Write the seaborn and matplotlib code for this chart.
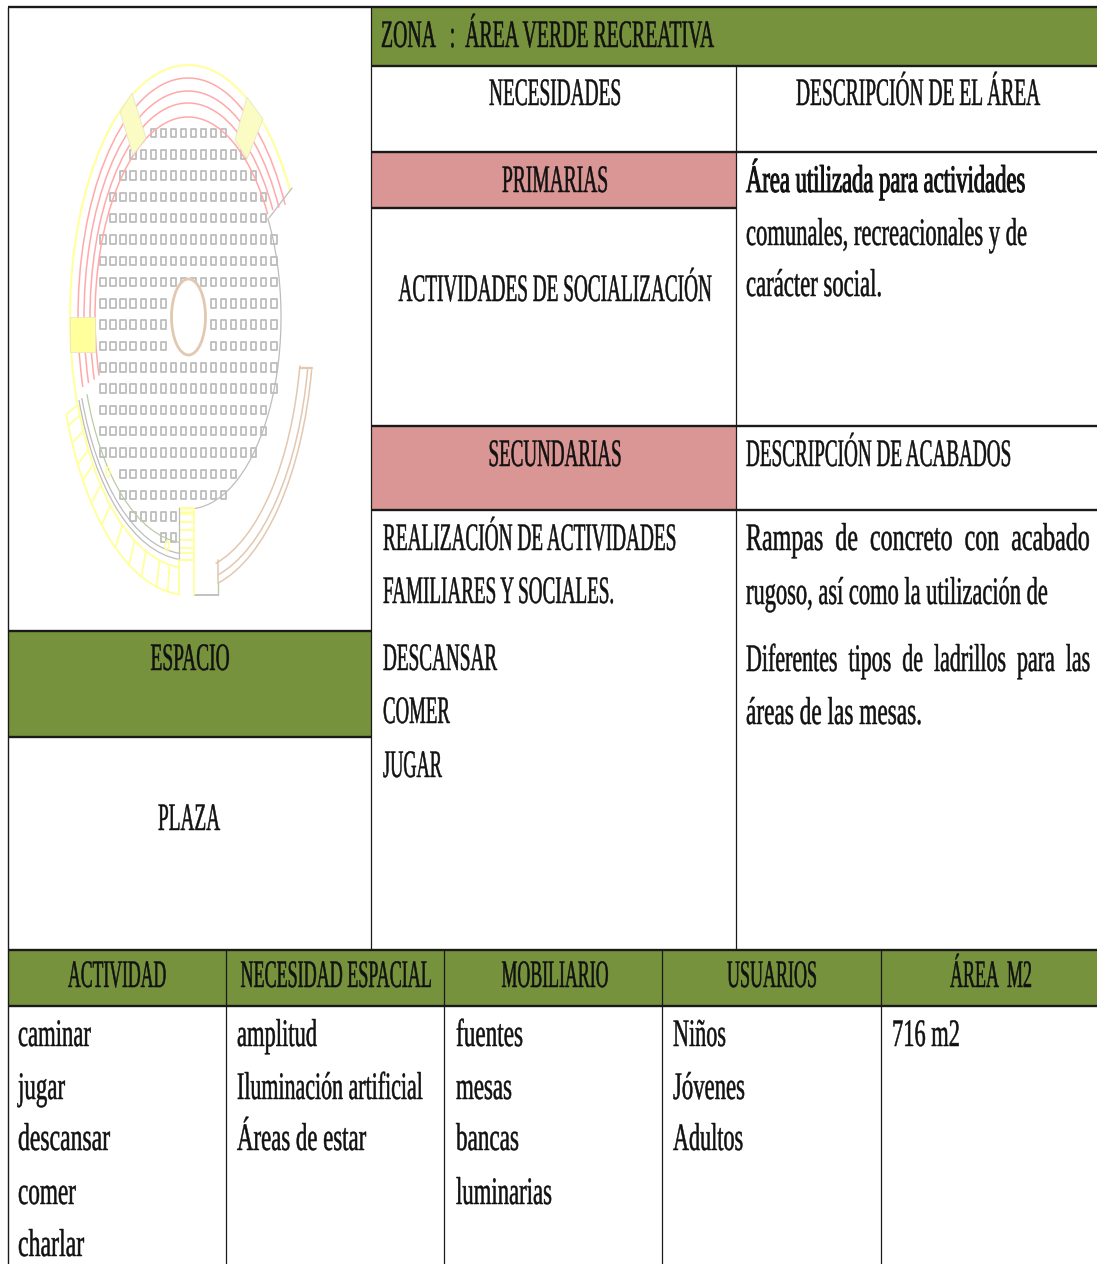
import numpy as np
import matplotlib
matplotlib.use("Agg")
import matplotlib.pyplot as plt
import seaborn as sns
import pandas as pd
from matplotlib.patches import Arc, Ellipse, Polygon, Rectangle
from matplotlib.patheffects import AbstractPathEffect
from matplotlib.path import Path
from matplotlib.text import Text
from matplotlib.transforms import Affine2D, Bbox

# Table text
zona_title = "ZONA   :  ÁREA VERDE RECREATIVA"
necesidades_head = ["NECESIDADES", "DESCRIPCIÓN DE EL ÁREA"]
primarias = "PRIMARIAS"
primaria_item = "ACTIVIDADES DE SOCIALIZACIÓN"
secundarias = "SECUNDARIAS"
secundaria_items = ["REALIZACIÓN DE ACTIVIDADES", "FAMILIARES Y SOCIALES.",
                    "DESCANSAR", "COMER", "JUGAR"]
area_desc = ["Área utilizada para actividades", "comunales, recreacionales y de",
             "carácter social."]
acabados_head = "DESCRIPCIÓN DE ACABADOS"
acabados_desc = ["Rampas  de  concreto  con  acabado", "rugoso, así como la utilización de",
                 "Diferentes  tipos  de  ladrillos  para  las", "áreas de las mesas."]
espacio = "ESPACIO"
plaza = "PLAZA"
bottom_head = ["ACTIVIDAD", "NECESIDAD ESPACIAL", "MOBILIARIO", "USUARIOS", "ÁREA  M2"]
actividad = ["caminar", "jugar", "descansar", "comer", "charlar"]
necesidad_espacial = ["amplitud", "Iluminación artificial", "Áreas de estar"]
mobiliario = ["fuentes", "mesas", "bancas", "luminarias"]
usuarios = ["Niños", "Jóvenes", "Adultos"]
area_m2 = ["716 m2"]

# Plan seats: first and last seat column of each row
seat_first = [5, 3, 2, 1, 1, 0, 0, 0, 0, 0, 0, 0, 0, 0, 0, 0, 2, 2, 3, 6]
seat_last = [12, 14, 15, 16, 16, 17, 17, 17, 17, 17, 17, 17, 17, 16, 16, 15, 13, 12, 7, 7]
hole_rows = [8, 9, 10]
hole_cols = [7, 8, 9, 10]

GREEN = "#76923C"
PINK = "#D99694"
YELLOW = "#FFFF9E"
RED = "#FFA9A9"
GRAY = "#BDBDBD"
BROWN = "#E2C8B0"
LEAF = "#B9CDA4"

sns.set_theme(style="white")
plt.rcParams["font.family"] = ["Liberation Serif", "DejaVu Serif"]

fig = plt.figure(figsize=(10.97, 12.64), dpi=100, facecolor="white")
ax = fig.add_axes([0, 0, 1, 1])
ax.set_xlim(0, 1097)
ax.set_ylim(1264, 0)
ax.axis("off")
renderer = fig.canvas.get_renderer()


class Narrow(AbstractPathEffect):
    # squeeze a text sideways around its anchor
    def __init__(self, cx, sx, weight=0.35):
        super().__init__()
        self.cx = cx
        self.sx = sx
        self.weight = weight

    def draw_path(self, renderer, gc, tpath, affine, rgbFace=None):
        squeeze = Affine2D().translate(-self.cx, 0).scale(self.sx, 1).translate(self.cx, 0)
        gc.set_linewidth(self.weight)
        renderer.draw_path(gc, tpath, affine + squeeze, rgbFace)


class NarrowText(Text):
    # text whose reported box follows the squeeze
    sx = 1.0

    def get_window_extent(self, renderer=None, dpi=None):
        box = super().get_window_extent(renderer, dpi)
        cx = self.get_position()[0]
        return Bbox([[cx + (box.x0 - cx) * self.sx, box.y0],
                     [cx + (box.x1 - cx) * self.sx, box.y1]])


def label(x, base, s, width, ha="left", weight=0.35):
    t = NarrowText(x, base, s, fontsize=28, color="#111111", ha=ha, va="baseline", zorder=5)
    ax.add_artist(t)
    full = t.get_window_extent(renderer).width
    t.sx = width / full
    t.set_path_effects([Narrow(x, t.sx, weight)])
    return t


# Fills
fills = [(371, 7, 726, 59, GREEN), (371, 152, 365, 56, PINK), (371, 426, 365, 84, PINK),
         (8, 631, 363, 106, GREEN), (8, 950, 1089, 56, GREEN)]
for x0, y0, w, h, c in fills:
    ax.add_patch(Rectangle((x0, y0), w, h, facecolor=c, edgecolor="none", zorder=1))

# Grid lines
ax.hlines([7, 66, 152, 426, 510, 950, 1006], [8, 371, 371, 371, 371, 8, 8], 1097,
          color="#1a1a1a", lw=1.7, zorder=3)
ax.hlines([208, 631, 737], [371, 8, 8], [736, 371, 371], color="#1a1a1a", lw=1.7, zorder=3)
ax.vlines(8, 7, 1264, color="#1a1a1a", lw=1.0, zorder=3)
ax.vlines(371, 7, 950, color="#1a1a1a", lw=0.9, zorder=3)
ax.vlines(736, 66, 950, color="#1a1a1a", lw=0.9, zorder=3)
ax.vlines([226, 444, 662, 881], 950, 1264, color="#1a1a1a", lw=0.9, zorder=3)

# Plan seats
seat_x, seat_y = [], []
for row, (a, b) in enumerate(zip(seat_first, seat_last)):
    for col in range(a, b + 1):
        if row in hole_rows and col in hole_cols:
            continue
        seat_x.append(103 + 10.05 * col)
        seat_y.append(133 + 21.3 * row)
seats = pd.DataFrame({"x": seat_x, "y": seat_y})
seat_marker = Path([(-0.62, -1), (0.62, -1), (0.62, 1), (-0.62, 1), (-0.62, -1)], closed=True)
sns.scatterplot(data=seats, x="x", y="y", ax=ax, marker=seat_marker, s=38, facecolor="none",
                edgecolor="#BDBDBD", linewidth=1.3, legend=False, zorder=2)
ax.set_xlim(0, 1097)
ax.set_ylim(1264, 0)
ax.axis("off")


def arc(a, b, t1, t2, color, lw=0.9):
    # t1, t2 are positions along the ellipse, Arc wants true angles
    th1 = np.degrees(np.arctan2(b * np.sin(np.radians(t1)), a * np.cos(np.radians(t1)))) % 360
    th2 = np.degrees(np.arctan2(b * np.sin(np.radians(t2)), a * np.cos(np.radians(t2)))) % 360
    ax.add_patch(Arc((188, 317), 2 * a, 2 * b, theta1=th1, theta2=th2, color=color, lw=lw, zorder=2))


# Upper rows
arc(118, 252, 160, 330, YELLOW, 1.5)
for a, b, t2 in zip([110, 104, 98, 93], [239, 226, 214, 200], [332, 331, 330, 329]):
    arc(a, b, 163, t2, RED, 1.1)
ax.plot([292, 269], [188, 218], color=GRAY, lw=0.9, zorder=2)

# Seat area edge
arc(93, 192, -31, 87, GRAY, 0.9)

# Lower left band
arc(130, 278, 94.4, 159.5, YELLOW, 1.4)
arc(117.5, 251, 94.4, 159.5, YELLOW, 1.4)
arc(116, 243, 94.4, 160, GRAY, 0.9)
arc(113, 237, 94.4, 160, GRAY, 0.9)
arc(107.5, 226, 94.4, 160, LEAF, 0.9)
divider_t = [99, 104, 111, 117, 124, 131.5, 138, 144, 148, 153, 157, 159.5]
for t in divider_t:
    c, s = np.cos(np.radians(t)), np.sin(np.radians(t))
    ax.plot([188 + 117.5 * c, 188 + 130 * c], [317 + 251 * s, 317 + 278 * s], color=YELLOW, lw=1.3, zorder=2)

# Right brown band
for a, b in zip([126, 122, 114], [274, 266, 254]):
    arc(a, b, 11, 76, BROWN, 1.1)
ax.plot([300, 312], [368, 368], color=BROWN, lw=1.6, zorder=2)
ax.plot([218, 218], [560, 583], color=BROWN, lw=1.1, zorder=2)
ax.plot([218, 218], [583, 595], color=LEAF, lw=1.0, zorder=2)
ax.plot([194, 218], [595, 595], color=GRAY, lw=1.3, zorder=2)

# Stairs at the bottom
ax.add_patch(Rectangle((179, 508), 15, 8, facecolor="#FFFFD8", edgecolor="none", zorder=3))
ax.add_patch(Rectangle((179, 508), 15, 54, facecolor="white", edgecolor="none", zorder=2.5))
ax.hlines([508, 513, 522, 530, 540, 548, 553, 560], 179, 194, color=YELLOW, lw=1.5, zorder=3)
ax.plot([194, 194], [508, 595], color=YELLOW, lw=1.3, zorder=3)
ax.plot([179, 179], [508, 560], color=GRAY, lw=0.9, zorder=3)
ax.plot([179, 179], [560, 595], color=YELLOW, lw=1.3, zorder=3)

# Ramps and centre
ramps = [[(132, 93), (120, 112), (133, 155), (146, 138)],
         [(247, 97), (263, 119), (247, 159), (235, 140)],
         [(70, 317), (95, 317), (95, 352), (70, 352)]]
ramp_fill = ["#FBFBC4", "#FBFBC4", "#FFFF9C"]
for pts, c in zip(ramps, ramp_fill):
    ax.add_patch(Polygon(pts, closed=True, facecolor=c, edgecolor="#E8E8C8", lw=0.6, zorder=3))
ax.add_patch(Ellipse((188.5, 317), 34, 76, facecolor="white", edgecolor=BROWN, lw=2, zorder=3))
ax.add_patch(Ellipse((108, 472), 4, 10, facecolor="none", edgecolor=YELLOW, lw=1, zorder=3))
ax.add_patch(Ellipse((167, 546), 4, 10, facecolor="none", edgecolor=YELLOW, lw=1, zorder=3))

# Upper table text
label(381, 47, zona_title, 333)
label(555, 105, necesidades_head[0], 132, "center")
label(918, 105, necesidades_head[1], 244, "center")
label(555, 192, primarias, 106, "center")
label(555, 301, primaria_item, 313, "center")
label(555, 466, secundarias, 133, "center")
label(190, 670, espacio, 79, "center")
label(189, 830, plaza, 62, "center")

label(746, 192, area_desc[0], 279, weight=0.7)
for s, base, w in zip(area_desc[1:], [245, 296], [281, 136]):
    label(746, base, s, w)
label(746, 466, acabados_head, 265)
for s, base, w in zip(acabados_desc, [550, 604, 671, 724], [344, 302, 344, 176]):
    label(746, base, s, w)
for s, base, w in zip(secundaria_items, [550, 603, 670, 723, 777], [293, 231, 114, 67, 59]):
    label(383, base, s, w)

# Lower table text
for s, cx, w in zip(bottom_head, [117, 336, 555, 772, 991], [98, 191, 107, 90, 82]):
    label(cx, 987, s, w, "center")
row_base = [1046, 1099, 1150, 1204, 1256]
for s, base, w in zip(actividad, row_base, [73, 47, 92, 58, 66]):
    label(18, base, s, w)
for s, base, w in zip(necesidad_espacial, row_base, [80, 186, 129]):
    label(237, base, s, w)
for s, base, w in zip(mobiliario, row_base, [67, 56, 63, 96]):
    label(456, base, s, w)
for s, base, w in zip(usuarios, row_base, [53, 72, 70]):
    label(673, base, s, w)
label(892, row_base[0], area_m2[0], 68)

fig.savefig("out.png", dpi=100, facecolor="white")
